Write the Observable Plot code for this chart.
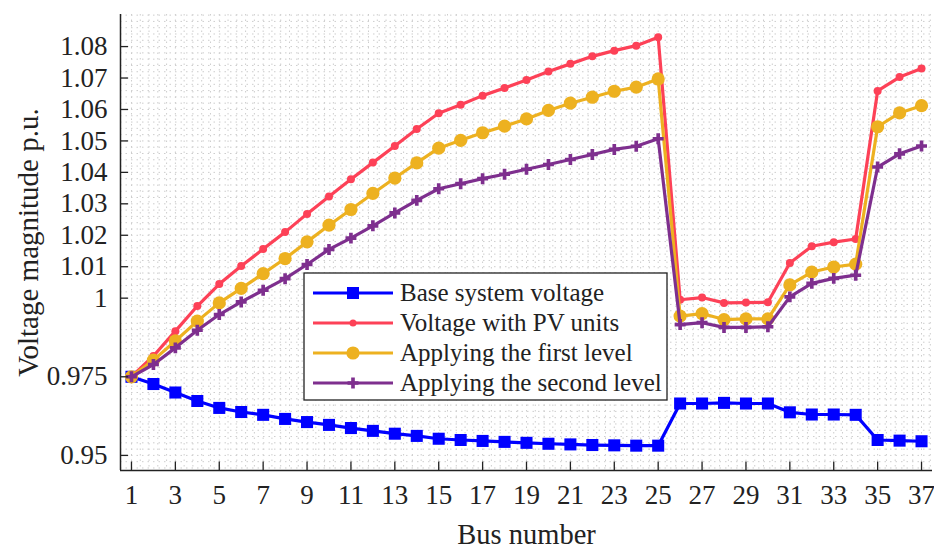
<!DOCTYPE html>
<html>
<head>
<meta charset="utf-8">
<script src="https://cdn.jsdelivr.net/npm/d3@7"></script>
<script src="https://cdn.jsdelivr.net/npm/@observablehq/plot@0.6"></script>
<style>
  html, body { margin: 0; padding: 0; background: #fff; }
  #chart { position: relative; width: 934px; height: 550px; }
  #chart svg { font-family: "Liberation Serif", "Times New Roman", serif; }
</style>
</head>
<body>
<div id="chart"></div>
<script>
const buses = d3.range(1, 38);
const baseVoltage = [0.975, 0.9727, 0.9700, 0.9673, 0.9651, 0.9638, 0.9629, 0.9616, 0.9606, 0.9597,
  0.9587, 0.9578, 0.9569, 0.9562, 0.9553, 0.9549, 0.9546, 0.9543, 0.9540, 0.9537,
  0.9535, 0.9533, 0.9532, 0.9531, 0.9531, 0.9665, 0.9665, 0.9667, 0.9665, 0.9665,
  0.9637, 0.9630, 0.9630, 0.9629, 0.9549, 0.9547, 0.9545];
const pvVoltage = [0.975, 0.9816, 0.9895, 0.9975, 1.0045, 1.0102, 1.0156, 1.0210, 1.0268, 1.0323,
  1.0378, 1.0431, 1.0484, 1.0538, 1.0588, 1.0615, 1.0644, 1.0668, 1.0694, 1.0721,
  1.0745, 1.0769, 1.0787, 1.0803, 1.0830, 0.9995, 1.0002, 0.9985, 0.9986, 0.9987,
  1.0112, 1.0165, 1.0178, 1.0188, 1.0659, 1.0703, 1.0730];
const firstLevel = [0.975, 0.9803, 0.9864, 0.9927, 0.9985, 1.0031, 1.0078, 1.0126, 1.0179, 1.0232,
  1.0282, 1.0333, 1.0382, 1.0430, 1.0477, 1.0502, 1.0526, 1.0547, 1.0570, 1.0597,
  1.0620, 1.0639, 1.0658, 1.0671, 1.0697, 0.9943, 0.9951, 0.9932, 0.9934, 0.9934,
  1.0042, 1.0083, 1.0099, 1.0108, 1.0545, 1.0589, 1.0612];
const secondLevel = [0.975, 0.9789, 0.9842, 0.9898, 0.9948, 0.9988, 1.0025, 1.0062, 1.0107, 1.0155,
  1.0191, 1.0230, 1.0271, 1.0311, 1.0348, 1.0364, 1.0380, 1.0394, 1.0410, 1.0425,
  1.0441, 1.0457, 1.0473, 1.0483, 1.0507, 0.9916, 0.9922, 0.9907, 0.9907, 0.9909,
  1.0004, 1.0047, 1.0063, 1.0073, 1.0417, 1.0459, 1.0484];
const seriesNames = ["Base system voltage", "Voltage with PV units", "Applying the first level", "Applying the second level"];
const xTicks = d3.range(1, 38, 2);
const yTicks = [0.95, 0.975, 1, 1.01, 1.02, 1.03, 1.04, 1.05, 1.06, 1.07, 1.08];

const colors = ["#0000ff", "#fd4157", "#edb120", "#7e2f8e"];
const symbols = ["square", "circle", "circle", "cross"];
const radii = [6.8, 4.0, 6.6, 4.6];
const allSeries = [baseVoltage, pvVoltage, firstLevel, secondLevel];

const xDomain = [0.5, 37.5];
const yDomain = [0.9452, 1.0902];
const xGrid = d3.range(1, 37.5, 0.4);
const yGrid = d3.range(0.946, 1.09, 0.002);

const marks = [
  Plot.ruleX(xGrid, {x: d => d, stroke: "#cdcdcd", strokeDasharray: "1.5,4", strokeWidth: 1}),
  Plot.ruleY(yGrid, {y: d => d, stroke: "#cdcdcd", strokeDasharray: "1.5,4", strokeWidth: 1}),
];
allSeries.forEach((vals, i) => {
  const data = buses.map((b, j) => ({bus: b, v: vals[j]}));
  marks.push(Plot.line(data, {x: "bus", y: "v", stroke: colors[i], strokeWidth: 3.2}));
  marks.push(Plot.dot(data, {x: "bus", y: "v", symbol: symbols[i], r: radii[i], fill: colors[i], stroke: "none"}));
});
marks.push(Plot.axisX({ticks: xTicks, tickSize: 0, tickPadding: 14, fontSize: 27, label: null, tickFormat: d => d}));
marks.push(Plot.axisY({ticks: yTicks, tickSize: 0, tickPadding: 13, fontSize: 27, label: null, tickFormat: d => String(+d.toFixed(3))}));
marks.push(Plot.ruleX(xTicks, {x: d => d, y1: yDomain[0], y2: yDomain[0] + 0.0027, stroke: "#222", strokeWidth: 1.3}));
marks.push(Plot.ruleY(yTicks, {y: d => d, x1: xDomain[0], x2: xDomain[0] + 0.37, stroke: "#222", strokeWidth: 1.3}));
marks.push(Plot.ruleY([yDomain[0]], {stroke: "#222", strokeWidth: 1.5}));
marks.push(Plot.ruleX([xDomain[0]], {stroke: "#222", strokeWidth: 1.5}));
marks.push(Plot.text(["Bus number"], {frameAnchor: "bottom", lineAnchor: "middle", textAnchor: "middle", dy: 64, fontSize: 28.5, fill: "#222"}));
marks.push(Plot.text(["Voltage magnitude p.u."], {frameAnchor: "left", lineAnchor: "middle", textAnchor: "middle", dx: -92, rotate: -90, fontSize: 29, fill: "#222"}));

const chart = Plot.plot({
  width: 934,
  height: 550,
  marginLeft: 120,
  marginRight: 2,
  marginTop: 14,
  marginBottom: 80,
  x: {domain: xDomain},
  y: {domain: yDomain},
  style: {fontFamily: "'Liberation Serif', 'Times New Roman', serif", fontSize: "27px", color: "#222", background: "#fff", overflow: "visible"},
  marks
});
document.getElementById("chart").appendChild(chart);

// Legend box drawn inside the plot SVG
const svg = d3.select(chart);
const lg = svg.append("g").attr("transform", "translate(304,273)");
lg.append("rect").attr("width", 363).attr("height", 127).attr("fill", "#fff").attr("stroke", "#222").attr("stroke-width", 1.3);
const symMap = {square: d3.symbolSquare, circle: d3.symbolCircle, cross: d3.symbolCross};
seriesNames.forEach((name, i) => {
  const y = 20 + i * 30;
  lg.append("line").attr("x1", 9).attr("x2", 89).attr("y1", y).attr("y2", y).attr("stroke", colors[i]).attr("stroke-width", 3.2);
  const r = i === 1 ? 3.5 : radii[i];
  lg.append("path").attr("d", d3.symbol(symMap[symbols[i]], Math.PI * r * r)()).attr("transform", `translate(49,${y})`).attr("fill", colors[i]);
  lg.append("text").attr("x", 96).attr("y", y).attr("dy", "0.33em").attr("text-anchor", "start")
    .attr("font-size", 25).attr("fill", "#222").text(name);
});
</script>
</body>
</html>
